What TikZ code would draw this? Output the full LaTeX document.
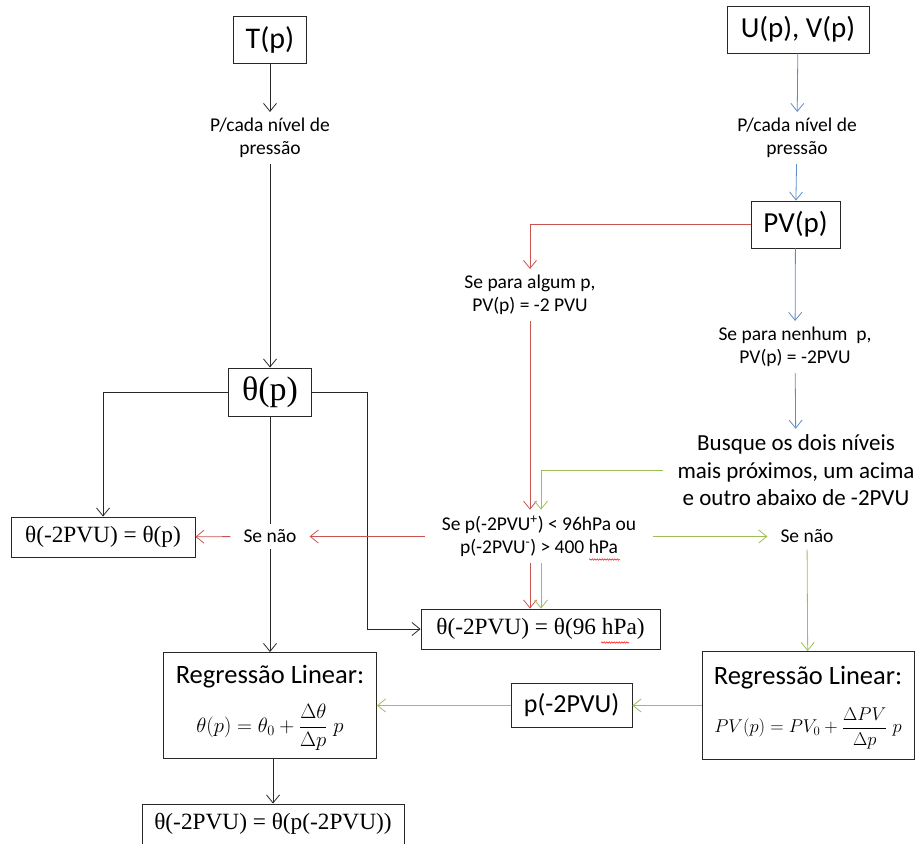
\documentclass[tikz,border=0pt]{standalone}
\usepackage{fontspec}
\usepackage{graphicx}
\setmainfont{Carlito}
\newfontfamily\serifb{Liberation Serif}
\usetikzlibrary{arrows.meta,decorations.pathmorphing}
\definecolor{cred}{RGB}{200,85,82}
\definecolor{cblue}{RGB}{95,140,200}
\definecolor{cgreen}{RGB}{155,192,90}
\definecolor{cline}{RGB}{40,40,40}
\begin{document}
\begin{tikzpicture}[x=1pt,y=-1pt,
  box/.style={draw=cline, line width=0.9pt, inner sep=0pt, align=center},
  lbl/.style={align=center, inner xsep=10pt, inner ysep=6pt, font=\fontsize{19.5}{23}\selectfont},
  arr/.style={line width=0.8pt, -{Straight Barb[length=8pt,width=13pt]}},
  kl/.style={draw=cline, line width=0.8pt},
  rl/.style={draw=cred, line width=0.8pt},
  bl/.style={draw=cblue, line width=0.8pt},
  gl/.style={draw=cgreen, line width=0.8pt},
  big/.style={font=\fontsize{29}{31}\selectfont},
  thf/.style={font=\serifb\fontsize{23.3}{25}\selectfont},
  ttl/.style={font=\fontsize{26.5}{28}\selectfont},
  squig/.style={draw=red, line width=0.5pt, decorate, decoration={snake, amplitude=0.7pt, segment length=2.5pt}}
]
\useasboundingbox (0,0) rectangle (915,843);

% left column
\node[box, font=\fontsize{30}{32}\selectfont, minimum width=73pt, minimum height=47pt] (T) at (270,39.5) {T(p)};
\node[lbl] (T1) at (270,138) {P/cada nível de\\pressão};
\node[box, minimum width=83pt, minimum height=48pt, font=\serifb\fontsize{34}{36}\selectfont] (th) at (270,392) {θ(p)};
\node[lbl, inner xsep=13pt] (sn1) at (270,536.5) {Se não};
\node[box, thf, minimum width=184pt, minimum height=40pt] (eqp) at (103,537) {θ(-2PVU) = θ(p)};
\node[box, thf, minimum width=239pt, minimum height=40pt] (th96) at (540.5,629) {θ(-2PVU) = θ(96 hPa)};
\node[box, minimum width=213pt, minimum height=106pt] (regL) at (270,705.5) {};
\node[ttl] (regLt) at ([yshift=29pt]regL.center) {Regressão Linear:};
\node[font=\fontsize{20}{22}\selectfont] (regLf) at ([yshift=-22pt]regL.center) {$\displaystyle \theta(p) = \theta_0 + \frac{\Delta\theta}{\Delta p}\;p$};
\node[box, thf, minimum width=262pt, minimum height=40pt] (fin) at (273,824) {θ(-2PVU) = θ(p(-2PVU))};

% right column
\node[box, big, minimum width=142pt, minimum height=47pt] (UV) at (798,29.5) {U(p), V(p)};
\node[lbl] (U1) at (797,138) {P/cada nível de\\pressão};
\node[box, big, minimum width=89pt, minimum height=47pt] (PV) at (795.5,224.5) {PV(p)};
\node[lbl] (alg) at (530,295) {Se para algum p,\\PV(p) = -2 PVU};
\node[lbl] (nen) at (795,347) {Se para nenhum~ p,\\PV(p) = -2PVU};
\node[lbl, font=\fontsize{23}{27.5}\selectfont, inner xsep=14pt] (busq) at (796,470.5) {Busque os dois níveis\\mais próximos, um acima\\e outro abaixo de -2PVU};
\node[lbl, inner xsep=17pt] (cond) at (539,536.5) {Se p(-2PVU\textsuperscript{+}) < 96hPa ou\\p(-2PVU\textsuperscript{-}) > 400 hPa};
\node[lbl, inner xsep=13pt] (sn2) at (807,536.5) {Se não};
\node[box, minimum width=212pt, minimum height=108pt] (regR) at (808,705.5) {};
\node[ttl] (regRt) at ([yshift=28pt]regR.center) {Regressão Linear:};
\node[font=\fontsize{18.3}{20}\selectfont] (regRf) at ([yshift=-23pt]regR.center) {\scalebox{1.07}{$\displaystyle PV(p) = PV_0 + \frac{\Delta PV}{\Delta p}\;p$}};
\node[box, minimum width=121pt, minimum height=44pt, font=\fontsize{26}{28}\selectfont] (pb) at (571.5,705.5) {p(-2PVU)};

\coordinate (gx) at (541,500);

% black connectors
\draw[kl,arr] (T) -- (T1);
\draw[kl,arr] (T1) -- (th);
\draw[kl,arr] (th.west) -| (eqp.north);
\draw[kl,arr] (th.east) -- ++(55,0) |- (th96.west);
\draw[kl] (th) -- (sn1);
\draw[kl,arr] (sn1) -- (regL);
\draw[kl,arr] (regL.south -| fin.north) -- (fin.north);

% blue connectors
\draw[bl,arr] (UV) -- (U1);
\draw[bl,arr] (U1) -- (PV);
\draw[bl,arr] (PV) -- (nen);
\draw[bl,arr] (nen) -- (busq);

% red connectors
\draw[rl,arr] (PV.west) -| (alg.north);
\draw[rl,arr] (alg) -- (cond.north -| alg);
\draw[rl,arr] (cond.south -| alg) -- (th96.north -| alg);
\draw[rl,arr] (cond) -- (sn1);
\draw[rl,arr] (sn1) -- (eqp);

% green connectors
\draw[gl,arr] (busq.west) -| (cond.north -| gx);
\draw[gl,arr] (cond.south -| gx) -- (th96.north -| gx);
\draw[gl,arr] (cond) -- (sn2);
\draw[gl,arr] (sn2) -- (regR);
\draw[gl,arr] (regR) -- (pb);
\draw[gl,arr] (pb) -- (regL);

% spell-check underlines
\draw[squig] (589,559.5) -- (620,559.5);
\draw[squig] (601,642.5) -- (629,642.5);
\end{tikzpicture}
\end{document}
